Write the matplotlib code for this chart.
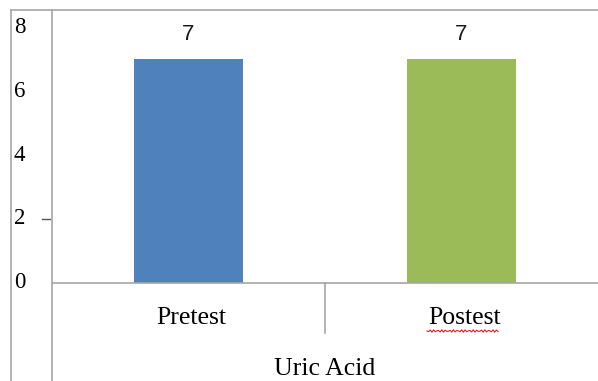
import matplotlib.pyplot as plt
import matplotlib.transforms as mtransforms
from matplotlib.lines import Line2D
import numpy as np

categories = ['Pretest', 'Postest']
values = [7, 7]
bar_colors = ['#4F81BD', '#9BBB59']
y_ticks = [0, 2, 4, 6, 8]
group_label = 'Uric Acid'

W, H = 598, 381
border = '#a6a6a6'
serif = 'Liberation Serif'

fig = plt.figure(figsize=(W / 100, H / 100), dpi=100)
# plot area in pixels: x 52..598, y 10..283 (from top)
ax = fig.add_axes([52 / W, 1 - 283 / H, 546 / W, 273 / H])

x = np.arange(len(categories))
bars = ax.bar(x, values, width=0.4, color=bar_colors, zorder=2)
ax.set_xlim(-0.5, 1.5)
ax.set_ylim(0, 8.55)

for b, v in zip(bars, values):
    ax.annotate(str(v), (b.get_x() + b.get_width() / 2, v),
                xytext=(0, 18), textcoords='offset points',
                ha='center', va='center', fontsize=16,
                family='Liberation Sans', color='#1a1a1a')

# y tick labels sit far left, next to the outer border
ax.set_yticks(y_ticks)
ax.set_yticklabels([str(t) for t in y_ticks], family=serif,
                   fontsize=16.5, ha='left')
ax.tick_params(axis='y', length=0, pad=27.5)
for lab in ax.get_yticklabels():
    lab.set_transform(lab.get_transform() +
                      mtransforms.ScaledTranslation(0, 2 / 72, fig.dpi_scale_trans))
ax.set_xticks([])

for s in ['top', 'right', 'left']:
    ax.spines[s].set_visible(False)
ax.spines['bottom'].set_color(border)
ax.spines['bottom'].set_linewidth(1.2)

# stray tick mark beside the 2
trans = mtransforms.blended_transform_factory(ax.transAxes, ax.transData)
ax.plot([-10 / 546, -2 / 546], [2, 2], transform=trans, color='#555555',
        lw=1, clip_on=False)

# category labels under the axis, plus the divider between them
for xi, name in zip(x, categories):
    ax.annotate(name, (xi, 0), xytext=(2, -25.5), textcoords='offset points',
                ha='center', va='center', fontsize=18.5,
                family=serif, annotation_clip=False)
div = mtransforms.blended_transform_factory(ax.transData, fig.transFigure)
fig.add_artist(Line2D([0.5, 0.5], [1 - 283 / H, 1 - 333 / H],
                      transform=div, color=border, lw=1.2))

fig.text(325 / W, 1 - 369 / H, group_label, ha='center', va='center',
         fontsize=18.5, family=serif)

# table-like frame lines
px = lambda v: v / W
py = lambda v: 1 - v / H
for xs, ys in [([px(11), px(11)], [py(10), 0]),
               ([px(52), px(52)], [py(10), 0]),
               ([px(11), 1], [py(10), py(10)])]:
    fig.add_artist(Line2D(xs, ys, color=border, lw=1.2))

# spell-check squiggle under "Postest"
sx = np.linspace(427, 498, 44)
sy = 331 + 1.2 * np.sin((sx - 427) * 1.6)
fig.add_artist(Line2D(px(sx), py(sy), color='#e02020', lw=0.8))

fig.savefig('out.png', dpi=100)
